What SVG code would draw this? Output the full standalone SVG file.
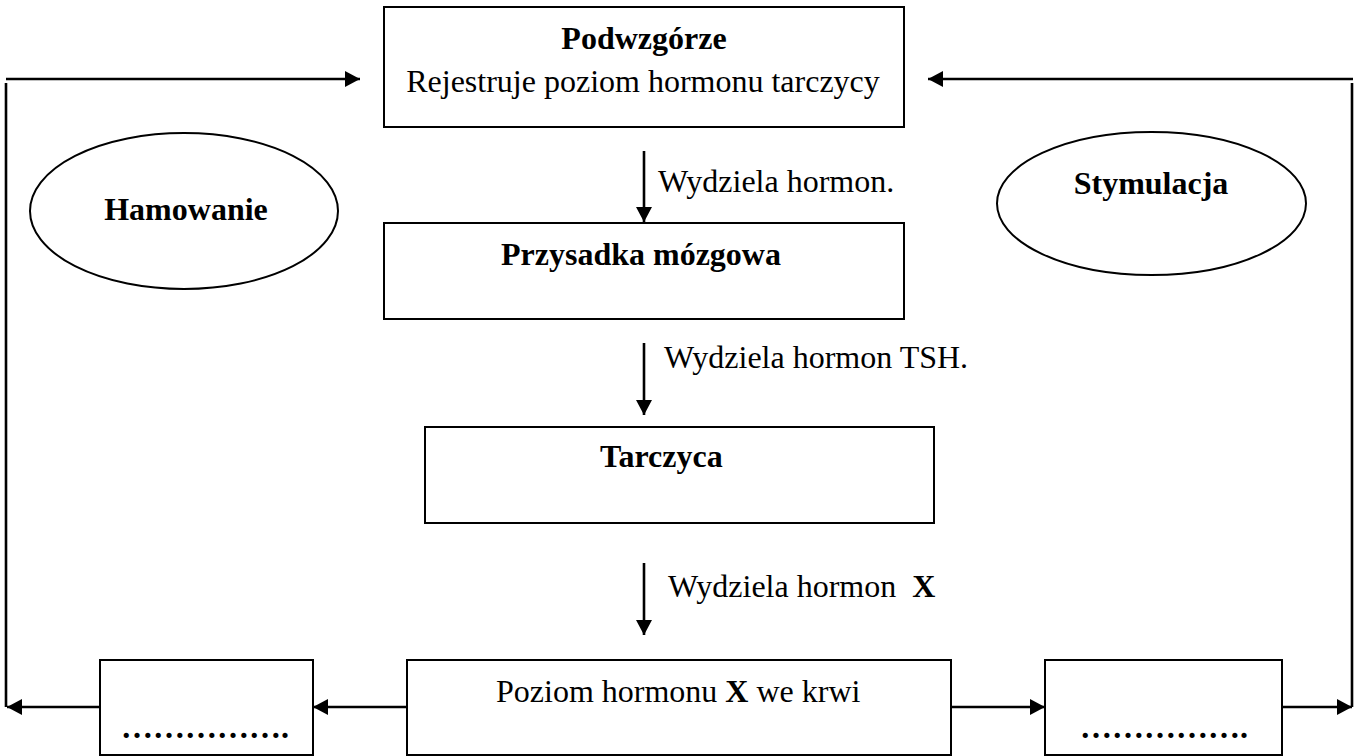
<svg xmlns="http://www.w3.org/2000/svg" width="1355" height="756" viewBox="0 0 1355 756">
<style>
.box{fill:#fff;stroke:#000;stroke-width:2}
.ell{fill:#fff;stroke:#000;stroke-width:2}
.con{fill:none;stroke:#000;stroke-width:2.6}
.t{font-family:"Liberation Serif","Times New Roman",serif;font-size:32px;fill:#000}
.b{font-weight:bold}
</style>
<defs>
<marker id="ah" markerUnits="userSpaceOnUse" markerWidth="18" markerHeight="18" refX="15" refY="8" orient="auto">
<path d="M0,0 L15,8 L0,16 z" fill="#000"/>
</marker>
</defs>
<rect width="1355" height="756" fill="#fff"/>
<g id="connectors">
<line class="con" x1="6" y1="79" x2="360" y2="79" marker-end="url(#ah)"/>
<line class="con" x1="6" y1="83" x2="6" y2="707"/>
<line class="con" x1="1353" y1="79" x2="928" y2="79" marker-end="url(#ah)"/>
<line class="con" x1="1352" y1="83" x2="1352" y2="707"/>
<line class="con" x1="644" y1="151" x2="644" y2="222" marker-end="url(#ah)"/>
<line class="con" x1="644" y1="343" x2="644" y2="415" marker-end="url(#ah)"/>
<line class="con" x1="644" y1="563" x2="644" y2="635" marker-end="url(#ah)"/>
<line class="con" x1="407" y1="707" x2="313" y2="707" marker-end="url(#ah)"/>
<line class="con" x1="100" y1="707" x2="7" y2="707" marker-end="url(#ah)"/>
<line class="con" x1="951" y1="707" x2="1045" y2="707" marker-end="url(#ah)"/>
<line class="con" x1="1282" y1="707" x2="1352" y2="707" marker-end="url(#ah)"/>
<text class="t" x="658" y="192">Wydziela hormon.</text>
<text class="t" x="664" y="368">Wydziela hormon TSH.</text>
<text class="t" x="668" y="597" xml:space="preserve">Wydziela hormon  <tspan class="b">X</tspan></text>
</g>
<g id="podwzgorze">
<rect class="box" x="384" y="7" width="520" height="120"/>
<text class="t b" x="644" y="49" text-anchor="middle">Podwzgórze</text>
<text class="t" x="643" y="92" text-anchor="middle">Rejestruje poziom hormonu tarczycy</text>
</g>
<g id="przysadka">
<rect class="box" x="384" y="223" width="520" height="96"/>
<text class="t b" x="501" y="265">Przysadka mózgowa</text>
</g>
<g id="tarczyca">
<rect class="box" x="425" y="427" width="509" height="96"/>
<text class="t b" x="600" y="467">Tarczyca</text>
</g>
<g id="poziom">
<rect class="box" x="407" y="660" width="544" height="95"/>
<text class="t" x="496" y="702">Poziom hormonu <tspan class="b">X</tspan> we krwi</text>
</g>
<g id="left-box">
<rect class="box" x="100" y="660" width="213" height="95"/>
<text class="t b" x="205" y="738" text-anchor="middle">…………….</text>
</g>
<g id="right-box">
<rect class="box" x="1045" y="660" width="237" height="95"/>
<text class="t b" x="1164" y="738" text-anchor="middle">…………….</text>
</g>
<g id="hamowanie">
<ellipse class="ell" cx="184" cy="211" rx="154" ry="78"/>
<text class="t b" x="186" y="220" text-anchor="middle">Hamowanie</text>
</g>
<g id="stymulacja">
<ellipse class="ell" cx="1151.5" cy="203.5" rx="154.5" ry="71.5"/>
<text class="t b" x="1151" y="194" text-anchor="middle">Stymulacja</text>
</g>
</svg>
